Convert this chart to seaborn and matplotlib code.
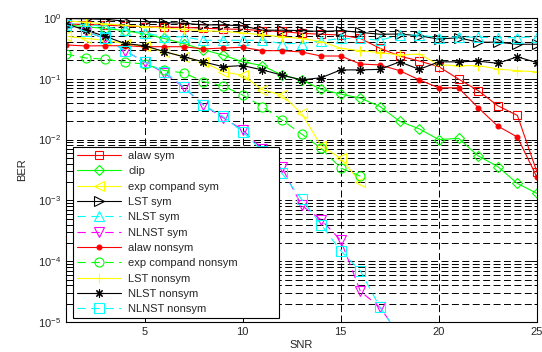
import matplotlib
matplotlib.use("Agg")
import matplotlib.pyplot as plt
import seaborn as sns
import pandas as pd
from matplotlib.ticker import LogLocator, FixedLocator, NullFormatter, NullLocator

sns.set_style("ticks")
plt.rcParams['font.family'] = ['Liberation Sans', 'DejaVu Sans']
plt.rcParams['mathtext.default'] = 'regular'
plt.rcParams['lines.scale_dashes'] = False

# ---- data ----
snr = list(range(1, 26))

alaw_sym = [0.80, 0.78, 0.76, 0.74, 0.72, 0.71, 0.70, 0.68, 0.66, 0.65, 0.62, 0.60, 0.56,
            0.54, 0.525, 0.46, 0.317, 0.237, 0.196, 0.158, 0.099, 0.064, 0.036, 0.025, 0.0029]
clip = [0.77, 0.72, 0.67, 0.62, 0.545, 0.46, 0.38, 0.30, 0.246, 0.19, 0.165, 0.115, 0.096,
        0.067, 0.056, 0.048, 0.035, 0.020, 0.015, 0.010, 0.0105, 0.0054, 0.0036, 0.0019, 0.0013]
exp_compand_sym = [0.50, 0.46, 0.43, 0.38, 0.34, 0.28, 0.23, 0.19, 0.13, 0.115, 0.066, 0.054,
                   0.027, 0.0079, 0.0049, 0.0020]
lst_sym = [0.98, 0.97, 0.95, 0.89, 0.87, 0.84, 0.82, 0.77, 0.77, 0.74, 0.63, 0.63, 0.62,
           0.60, 0.62, 0.58, 0.54, 0.545, 0.51, 0.45, 0.475, 0.40, 0.40, 0.37, 0.37]
nlst_sym = [0.82, 0.78, 0.72, 0.63, 0.57, 0.49, 0.49, 0.43, 0.43, 0.43, 0.43, 0.38, 0.38,
            0.42, 0.46, 0.46, 0.43, 0.525, 0.525, 0.475, 0.49, 0.48, 0.475, 0.475, 0.49]
nlnst_sym = [0.77, 0.60, 0.46, 0.29, 0.19, 0.125, 0.072, 0.037, 0.023, 0.0145, 0.007, 0.0035,
             0.00083, 0.00048, 0.00022, 3.2e-5, 1.74e-5, 6e-6]
alaw_nonsym = [0.36, 0.347, 0.35, 0.35, 0.337, 0.337, 0.337, 0.31, 0.32, 0.33, 0.29, 0.29, 0.276,
               0.237, 0.237, 0.175, 0.169, 0.136, 0.096, 0.071, 0.071, 0.0335, 0.0167, 0.011, 0.0024]
exp_compand_nonsym = [0.255, 0.22, 0.21, 0.187, 0.175, 0.137, 0.125, 0.09, 0.076, 0.054, 0.035,
                      0.021, 0.0124, 0.0072, 0.0034, 0.0025]
lst_nonsym = [0.90, 0.85, 0.80, 0.76, 0.72, 0.68, 0.65, 0.62, 0.60, 0.57, 0.53, 0.49, 0.46,
              0.41, 0.317, 0.29, 0.27, 0.246, 0.255, 0.169, 0.165, 0.165, 0.145, 0.136, 0.13]
nlst_nonsym = [0.80, 0.63, 0.50, 0.38, 0.35, 0.28, 0.23, 0.19, 0.158, 0.165, 0.14, 0.115, 0.096,
               0.104, 0.14, 0.14, 0.143, 0.19, 0.143, 0.19, 0.19, 0.195, 0.18, 0.23, 0.184]
nlnst_nonsym = [0.77, 0.60, 0.46, 0.29, 0.19, 0.13, 0.074, 0.037, 0.024, 0.0135, 0.0065, 0.0028,
                0.00105, 0.0004, 0.000148, 6.9e-5, 1.74e-5, 6e-6]

labels = ["alaw sym", "clip", "exp compand sym", "LST sym", "NLST sym", "NLNST sym",
          "alaw nonsym", "exp compand nonsym", "LST nonsym", "NLST nonsym", "NLNST nonsym"]
values = [alaw_sym, clip, exp_compand_sym, lst_sym, nlst_sym, nlnst_sym,
          alaw_nonsym, exp_compand_nonsym, lst_nonsym, nlst_nonsym, nlnst_nonsym]

# ---- styles ----
styles = {
    "alaw sym": dict(color="#FF0000", marker="s", ls="-", ms=6, fill=False),
    "clip": dict(color="#00FF00", marker="D", ls="-", ms=5, fill=False),
    "exp compand sym": dict(color="#FFFF00", marker="<", ls="-", ms=6.5, fill=False),
    "LST sym": dict(color="#000000", marker=">", ls="-", ms=6.5, fill=False),
    "NLST sym": dict(color="#00FFFF", marker="^", ls="--", ms=6.5, fill=False),
    "NLNST sym": dict(color="#FF00FF", marker="v", ls="--", ms=6.5, fill=False),
    "alaw nonsym": dict(color="#FF0000", marker="o", ls="-", ms=3.5, fill=True),
    "exp compand nonsym": dict(color="#00FF00", marker="o", ls="--", ms=6.5, fill=False),
    "LST nonsym": dict(color="#FFFF00", marker="+", ls="-", ms=7, fill=False),
    "NLST nonsym": dict(color="#000000", marker=(8, 2, 0), ls="-", ms=6, fill=False),
    "NLNST nonsym": dict(color="#00FFFF", marker="s", ls="--", ms=6.5, fill=False),
}

fig = plt.figure(figsize=(5.42, 3.52), dpi=100)
ax = fig.add_axes([0.1218, 0.0852, 0.869, 0.8637])

handles = []
for name, vals in zip(labels, values):
    st = styles[name]
    df = pd.DataFrame({"SNR": snr[:len(vals)], "BER": vals})
    n_before = len(ax.get_lines())
    sns.lineplot(data=df, x="SNR", y="BER", ax=ax, color=st["color"], marker=st["marker"],
                 markersize=st["ms"], markeredgecolor=st["color"],
                 markerfacecolor=st["color"] if st["fill"] else "none",
                 markeredgewidth=0.8, linewidth=0.8, errorbar=None, legend=False)
    line = ax.get_lines()[n_before]
    line.set_color(st["color"])
    line.set_label(name)
    if st["ls"] == "--":
        line.set_linestyle((0, (6, 4)))
    else:
        line.set_linestyle("-")
    handles.append(line)

ax.set_yscale("log")
ax.set_xlim(1, 25)
ax.set_ylim(1e-5, 1)
ax.xaxis.set_major_locator(FixedLocator([5, 10, 15, 20, 25]))
ax.xaxis.set_minor_locator(NullLocator())
ax.yaxis.set_major_locator(LogLocator(base=10, numticks=10))
ax.yaxis.set_minor_locator(LogLocator(base=10, subs=range(2, 10), numticks=20))
ax.yaxis.set_minor_formatter(NullFormatter())

grid_ls = (0, (5, 2.5))
ax.grid(True, which="major", axis="both", color="k", linestyle=grid_ls, linewidth=0.7)
ax.grid(True, which="minor", axis="y", color="k", linestyle=grid_ls, linewidth=0.7)

ax.tick_params(which="both", direction="in", top=True, right=True, labelsize=8,
               color="k", width=0.7)
ax.tick_params(which="major", length=4)
ax.tick_params(which="minor", length=2.5)
for sp in ax.spines.values():
    sp.set_color("k")
    sp.set_linewidth(0.8)

ax.set_xlabel("SNR", fontsize=8, labelpad=2)
ax.set_ylabel("BER", fontsize=8, labelpad=8)

leg = ax.legend(handles=handles, labels=labels, loc="lower left",
                bbox_to_anchor=(0.015, 0.013, 0.437, 0.615), mode="expand",
                fontsize=8, frameon=True, fancybox=False, framealpha=1, edgecolor="k",
                handlelength=4.0, labelspacing=0.48, borderpad=0.35, handletextpad=0.6,
                borderaxespad=0)
leg.get_frame().set_linewidth(0.8)
leg.set_zorder(5)

fig.savefig("out.png", dpi=100)
